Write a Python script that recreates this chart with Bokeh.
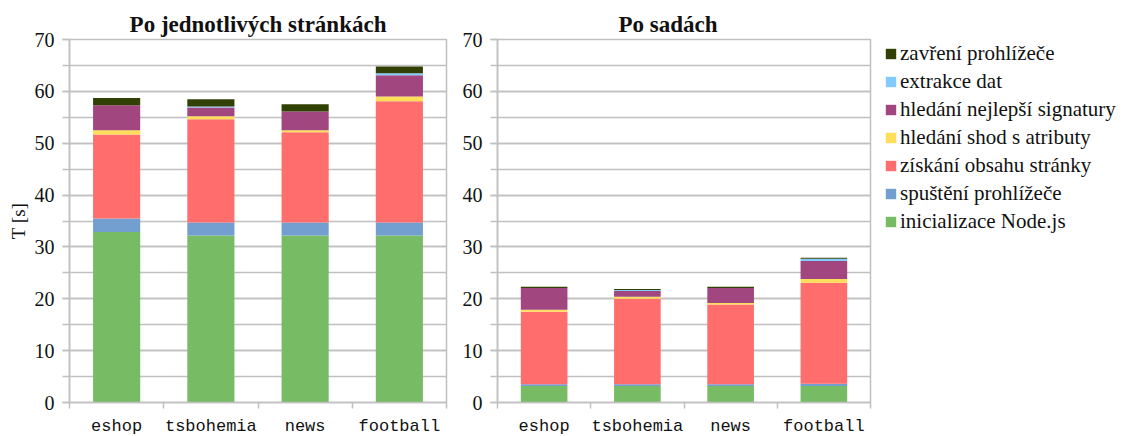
from bokeh.plotting import figure
from bokeh.models import (ColumnDataSource, Range1d, FixedTicker, SingleIntervalTicker,
                          Legend, LegendItem)
from bokeh.layouts import row
from bokeh.embed import file_html
from bokeh.resources import INLINE

# Pages measured
categories = ["eshop", "tsbohemia", "news", "football"]

# Stages, bottom of the stack first
stages = ["inicializace Node.js", "spuštění prohlížeče", "získání obsahu stránky",
          "hledání shod s atributy", "hledání nejlepší signatury", "extrakce dat",
          "zavření prohlížeče"]
stage_keys = ["init", "launch", "fetch", "match", "signature", "extract", "close"]
colors = ["#77bc65", "#729fcf", "#ff6d6d", "#ffde59", "#a1467e", "#83caff", "#314004"]

# Times in seconds, one page at a time
init_pages = [32.9, 32.2, 32.2, 32.2]
launch_pages = [2.6, 2.5, 2.5, 2.5]
fetch_pages = [16.2, 19.9, 17.4, 23.4]
match_pages = [0.8, 0.6, 0.4, 0.9]
signature_pages = [4.8, 1.7, 3.6, 4.1]
extract_pages = [0.0, 0.2, 0.0, 0.4]
close_pages = [1.4, 1.4, 1.4, 1.3]

# Times in seconds, whole sets
init_sets = [3.2, 3.2, 3.2, 3.2]
launch_sets = [0.3, 0.3, 0.3, 0.4]
fetch_sets = [14.0, 16.5, 15.4, 19.5]
match_sets = [0.4, 0.4, 0.3, 0.7]
signature_sets = [4.2, 1.1, 2.9, 3.5]
extract_sets = [0.0, 0.2, 0.0, 0.4]
close_sets = [0.2, 0.2, 0.2, 0.2]

y_max = 70

GRID = "#c0c0c0"
SERIF = "Liberation Serif"
MONO = "Liberation Mono"


def make_source(series):
    data = {"x": [i + 0.5 for i in range(len(categories))]}
    for key, vals in zip(stage_keys, series):
        data[key] = vals
    return ColumnDataSource(data)


def make_panel(title, series, frame_w, left, right, y_label=None,
               title_align="center", title_shift=0):
    p = figure(frame_width=frame_w, frame_height=363, title=title,
               output_backend="svg", toolbar_location=None,
               x_range=Range1d(0, len(categories)), y_range=Range1d(0, y_max),
               min_border_left=left, min_border_right=right,
               min_border_top=39, min_border_bottom=34)
    p.title.align = title_align
    p.title.offset = title_shift
    p.title.text_font = SERIF
    p.title.text_font_size = "23px"
    p.title.text_font_style = "bold"
    p.title.text_color = "#111111"
    p.title.standoff = 6

    renderers = p.vbar_stack(stage_keys, x="x", width=0.5, color=colors,
                             line_color=None, source=make_source(series))

    # category boundaries get the tick marks, names sit between them
    xt = FixedTicker(ticks=[i + 0.5 for i in range(len(categories))],
                     minor_ticks=list(range(len(categories) + 1)))
    p.xaxis.ticker = xt
    p.xaxis.major_label_overrides = {i + 0.5: c for i, c in enumerate(categories)}
    p.xaxis.major_tick_out = 0
    p.xaxis.major_tick_in = 0
    p.xaxis.minor_tick_out = 6
    p.xaxis.minor_tick_in = 0
    p.xaxis.major_label_standoff = 8
    p.xaxis.major_label_text_font = MONO
    p.xaxis.major_label_text_font_size = "17px"
    p.xaxis.major_label_text_color = "#111111"

    p.yaxis.ticker = SingleIntervalTicker(interval=10, num_minor_ticks=2)
    p.yaxis.major_tick_out = 7
    p.yaxis.major_tick_in = 0
    p.yaxis.minor_tick_out = 7
    p.yaxis.minor_tick_in = 0
    p.yaxis.major_label_standoff = 8
    p.yaxis.major_label_text_font = SERIF
    p.yaxis.major_label_text_font_size = "20px"
    p.yaxis.major_label_text_color = "#111111"
    if y_label:
        p.yaxis.axis_label = y_label
        p.yaxis.axis_label_text_font = SERIF
        p.yaxis.axis_label_text_font_size = "19px"
        p.yaxis.axis_label_text_font_style = "normal"
        p.yaxis.axis_label_text_color = "#111111"
        p.yaxis.axis_label_standoff = 3

    for ax in (p.xaxis, p.yaxis):
        ax.axis_line_color = GRID
        ax.axis_line_width = 1.5
        ax.major_tick_line_color = GRID
        ax.minor_tick_line_color = GRID
        ax.major_tick_line_width = 1.5
        ax.minor_tick_line_width = 1.5

    p.xgrid.grid_line_color = None
    p.ygrid.grid_line_color = GRID
    p.ygrid.grid_line_width = 1.5
    p.ygrid.minor_grid_line_color = GRID
    p.ygrid.minor_grid_line_width = 1.5
    p.outline_line_color = GRID
    p.outline_line_width = 1.5
    p.background_fill_color = "white"
    p.border_fill_color = "white"
    return p, renderers


pages = [init_pages, launch_pages, fetch_pages, match_pages, signature_pages,
         extract_pages, close_pages]
sets = [init_sets, launch_sets, fetch_sets, match_sets, signature_sets,
        extract_sets, close_sets]

p1, _ = make_panel("Po jednotlivých stránkách", pages, 377, 69, 4, y_label="T [s]")
p2, rs = make_panel("Po sadách", sets, 373, 47, 254,
                    title_align="left", title_shift=121)

legend = Legend(
    items=[LegendItem(label=name, renderers=[r])
           for name, r in reversed(list(zip(stages, rs)))],
    location=(14, 168), orientation="vertical",
    border_line_color=None, background_fill_alpha=0,
    label_text_font=SERIF, label_text_font_size="21px", label_text_color="#111111",
    glyph_width=13, glyph_height=13, label_standoff=3, label_height=20,
    spacing=3, padding=0, margin=0,
)
p2.add_layout(legend, "right")

layout = row(p1, p2)
open("out.html", "w").write(file_html(layout, INLINE))
